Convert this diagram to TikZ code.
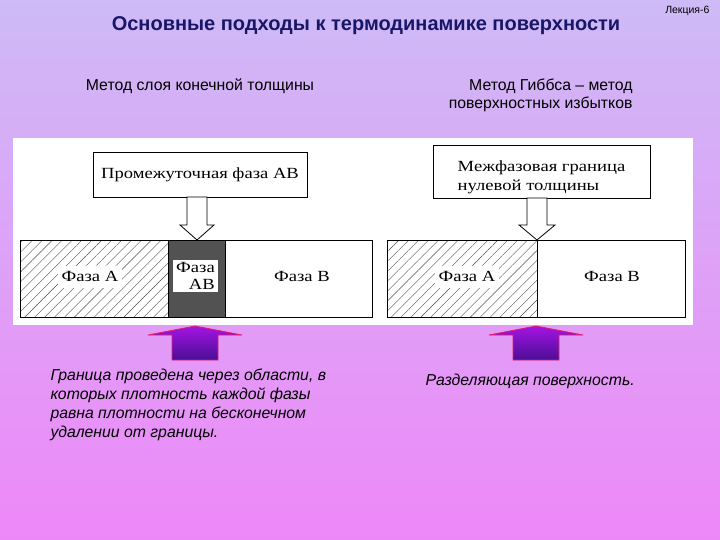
\documentclass[tikz,border=0pt]{standalone}
\usepackage{fontspec}
\setmainfont{Liberation Sans}
\newfontfamily\bookfont[FakeStretch=1.2]{Liberation Serif}
\usetikzlibrary{patterns.meta}

\definecolor{bgtop}{RGB}{206,186,246}
\definecolor{bgbot}{RGB}{238,136,248}
\definecolor{navytitle}{RGB}{24,22,104}
\definecolor{arrowred}{RGB}{226,30,112}
\definecolor{arrowtop}{RGB}{164,20,226}
\definecolor{arrowbot}{RGB}{74,14,150}

\begin{document}
\begin{tikzpicture}[x=1pt,y=-1pt,
    title/.style={font=\bfseries\fontsize{20}{24}\selectfont, text=navytitle},
    method/.style={font=\fontsize{15.8}{18}\selectfont},
    note/.style={font=\itshape\fontsize{15.8}{19}\selectfont, align=left},
    scheme/.style={draw, line width=0.8pt, fill=white, inner sep=2pt,
                   font=\bookfont\fontsize{15.5}{19}\selectfont},
    phase/.style={fill=white, inner sep=3pt, text height=11pt, text depth=3pt,
                  font=\bookfont\fontsize{15.5}{17}\selectfont},
    hatch/.style={pattern={Lines[angle=45,distance=7pt,line width=0.4pt]}, pattern color=black!70},
    hollow/.style={draw, line width=0.8pt, fill=white, line join=miter},
    pointer/.style={draw=arrowred, line width=0.8pt, top color=arrowtop, bottom color=arrowbot}
  ]
  % fon slajda
  \shade[top color=bgtop, bottom color=bgbot] (0,0) rectangle (720,540);

  % zagolovki
  \node[title] (title) at (366,26) {Основные подходы к термодинамике поверхности};
  \node[font=\fontsize{10.5}{13}\selectfont, anchor=east] (lecture) at (713,11) {Лекция-6};
  \node[method] (methodL) at (200,86) {Метод слоя конечной толщины};
  \node[method, align=right, anchor=east] (methodR) at (636,95) {Метод Гиббса – метод\\поверхностных избытков};

  % belaja podlozhka so skhemami
  \fill[white] (13,138) rectangle (693,325);

  % levaja skhema: sloj konechnoj tolshchiny
  \node[scheme, minimum width=214pt, minimum height=45pt] (boxAB) at (200,174.5) {Промежуточная фаза АВ};
  \fill[hatch] (20,240) rectangle (168,317);
  \fill[black!68] (168,240) rectangle (225,317);
  \draw[line width=0.8pt] (20,240) rectangle (372,317);
  \draw[line width=0.8pt] (168,240) -- (168,317) (225,240) -- (225,317);
  \coordinate (tipL) at (197,240);
  \draw[hollow] (tipL) -- ++(-17,-15) -- ++(7,0) -- ++(0,-28) -- ++(20,0) -- ++(0,28) -- ++(7,0) -- cycle;
  \node[phase, inner sep=4pt] (phaseAL) at (90,277) {Фаза А};
  \node[phase, text height=, text depth=, align=right, minimum width=45pt, minimum height=32pt, inner sep=1pt] (phaseAB) at (195.5,276) {Фаза\\АВ};
  \node[phase] (phaseBL) at (302,277) {Фаза В};

  % pravaja skhema: granica nulevoj tolshchiny
  \draw[line width=0.8pt, fill=white] (433,145) rectangle (650,198);
  \node[scheme, draw=none, fill=none, align=left] (boxG) at (541.5,177) {Межфазовая граница\\нулевой толщины};
  \fill[hatch] (387,240) rectangle (537,317);
  \draw[line width=0.8pt] (387,240) rectangle (685,317);
  \draw[line width=0.8pt] (537,240) -- (537,317);
  \coordinate (tipR) at (537,240);
  \draw[hollow] (tipR) -- ++(-18,-15) -- ++(8,0) -- ++(0,-27) -- ++(20,0) -- ++(0,27) -- ++(8,0) -- cycle;
  \node[phase, inner sep=4pt] (phaseAR) at (467,277) {Фаза А};
  \node[phase] (phaseBR) at (612,277) {Фаза В};

  % strelki-ukazateli
  \coordinate (markL) at (195,326);
  \coordinate (markR) at (536,326);
  \foreach \m in {markL,markR}
    \draw[pointer] (\m) -- ++(47,9) -- ++(-24,0) -- ++(0,25) -- ++(-46,0) -- ++(0,-25) -- ++(-24,0) -- cycle;

  % podpisi
  \node[note, anchor=north west] (noteL) at (47,365) {Граница проведена через области, в\\которых плотность каждой фазы\\равна плотности на бесконечном\\удалении от границы.};
  \node[note, anchor=west] (noteR) at (422,381) {Разделяющая поверхность.};
\end{tikzpicture}
\end{document}
